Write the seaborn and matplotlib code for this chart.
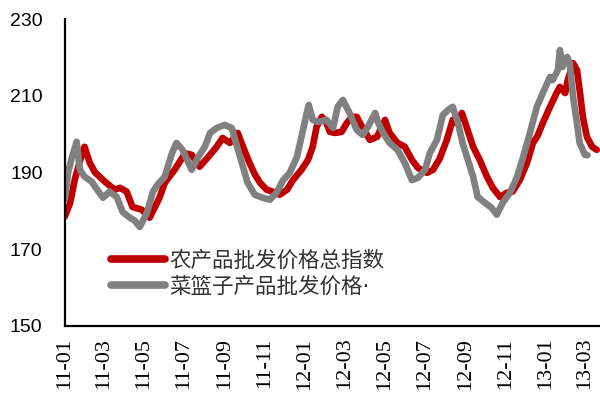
import matplotlib
matplotlib.use("Agg")
import matplotlib.pyplot as plt
import matplotlib.dates as mdates
import pandas as pd
import seaborn as sns

# 农产品批发价格总指数 (weekly readings)
agri_dates = [
    "2011-01-01", "2011-01-09", "2011-01-16", "2011-01-24", "2011-01-31", "2011-02-08",
    "2011-02-16", "2011-03-03", "2011-03-18", "2011-03-26", "2011-04-05", "2011-04-14",
    "2011-04-28", "2011-05-10", "2011-05-25", "2011-06-02", "2011-06-17", "2011-07-03",
    "2011-07-13", "2011-07-25", "2011-08-07", "2011-08-20", "2011-08-29", "2011-09-09",
    "2011-09-21", "2011-09-29", "2011-10-09", "2011-10-17", "2011-10-25", "2011-11-04",
    "2011-11-13", "2011-11-24", "2011-12-05", "2011-12-14", "2011-12-27", "2012-01-06",
    "2012-01-13", "2012-01-19", "2012-01-27", "2012-02-03", "2012-02-08", "2012-02-16",
    "2012-02-26", "2012-03-05", "2012-03-13", "2012-03-20", "2012-03-28", "2012-04-09",
    "2012-04-20", "2012-05-02", "2012-05-09", "2012-05-21", "2012-06-01", "2012-06-12",
    "2012-06-21", "2012-07-05", "2012-07-14", "2012-07-24", "2012-08-04", "2012-08-13",
    "2012-08-19", "2012-08-27", "2012-09-03", "2012-09-13", "2012-09-23", "2012-10-04",
    "2012-10-13", "2012-10-24", "2012-11-03", "2012-11-12", "2012-11-23", "2012-12-04",
    "2012-12-13", "2012-12-20", "2012-12-28", "2013-01-08", "2013-01-18", "2013-01-23",
    "2013-01-31", "2013-02-04", "2013-02-12", "2013-02-18", "2013-02-22", "2013-02-27",
    "2013-03-05", "2013-03-13", "2013-03-20",
]
agri_values = [
    178.5, 182.0, 188.0, 193.0, 196.7, 192.5,
    190.0, 187.6, 185.5, 186.0, 185.0, 181.0,
    180.3, 178.2, 183.4, 187.3, 190.7, 195.0,
    194.6, 191.5, 194.0, 196.7, 199.0, 197.7,
    200.3, 196.7, 192.5, 189.5, 187.3, 185.5,
    185.0, 184.2, 185.5, 188.0, 190.7, 193.3,
    196.7, 201.9, 204.5, 202.9, 200.6, 200.3,
    200.6, 202.9, 204.5, 204.5, 201.9, 198.5,
    199.3, 203.7, 200.3, 197.7, 196.7, 193.3,
    191.2, 189.9, 190.7, 193.5, 198.5, 203.7,
    202.9, 205.5, 201.9, 196.7, 193.3, 188.9,
    186.0, 183.6, 184.7, 185.0, 188.0, 192.5,
    197.7, 199.5, 202.9, 207.1, 210.7, 212.3,
    210.7, 214.1, 218.5, 216.7, 211.5, 204.5,
    199.3, 196.7, 195.9,
]

# 菜篮子产品批发价格 (weekly readings)
basket_dates = [
    "2011-01-01", "2011-01-06", "2011-01-12", "2011-01-19", "2011-01-24", "2011-01-31",
    "2011-02-11", "2011-02-16", "2011-02-28", "2011-03-10", "2011-03-21", "2011-03-30",
    "2011-04-10", "2011-04-17", "2011-04-25", "2011-05-06", "2011-05-15", "2011-05-22",
    "2011-06-02", "2011-06-13", "2011-06-20", "2011-06-29", "2011-07-13", "2011-07-22",
    "2011-08-02", "2011-08-10", "2011-08-20", "2011-09-01", "2011-09-12", "2011-09-20",
    "2011-09-29", "2011-10-06", "2011-10-17", "2011-10-29", "2011-11-09", "2011-11-19",
    "2011-11-29", "2011-12-09", "2011-12-20", "2011-12-27", "2012-01-04", "2012-01-07",
    "2012-01-13", "2012-01-21", "2012-02-03", "2012-02-13", "2012-02-20", "2012-02-28",
    "2012-03-09", "2012-03-20", "2012-03-29", "2012-04-06", "2012-04-17", "2012-04-21",
    "2012-04-29", "2012-05-09", "2012-05-21", "2012-06-01", "2012-06-12", "2012-06-21",
    "2012-07-02", "2012-07-09", "2012-07-20", "2012-07-29", "2012-08-06", "2012-08-13",
    "2012-08-21", "2012-08-28", "2012-09-05", "2012-09-13", "2012-09-20", "2012-10-01",
    "2012-10-11", "2012-10-19", "2012-10-28", "2012-11-08", "2012-11-19", "2012-11-28",
    "2012-12-08", "2012-12-19", "2012-12-28", "2013-01-08", "2013-01-12", "2013-01-20",
    "2013-01-23", "2013-01-27", "2013-02-03", "2013-02-07", "2013-02-12", "2013-02-18",
    "2013-02-22", "2013-03-02", "2013-03-06",
]
basket_values = [
    183.0, 190.0, 194.0, 198.0, 190.7, 188.9,
    187.6, 186.3, 183.4, 185.0, 183.6, 179.7,
    178.2, 177.5, 175.8, 179.5, 185.0, 186.8,
    188.9, 195.0, 197.7, 195.9, 190.7, 193.8,
    196.7, 200.3, 201.6, 202.4, 201.6, 196.7,
    191.5, 187.3, 184.2, 183.4, 182.9, 184.7,
    188.0, 189.9, 194.0, 199.3, 205.5, 207.6,
    203.7, 203.2, 203.7, 201.6, 207.1, 208.9,
    205.5, 201.1, 199.8, 201.9, 205.5, 203.2,
    200.3, 197.7, 195.9, 192.5, 188.0, 188.6,
    190.7, 195.0, 198.5, 205.0, 206.3, 207.1,
    202.9, 197.7, 193.3, 188.9, 183.6, 182.1,
    180.8, 179.0, 182.1, 184.7, 188.9, 194.0,
    200.0, 207.1, 210.7, 214.9, 214.1, 216.7,
    221.9, 217.5, 220.1, 218.5, 209.7, 202.9,
    197.7, 194.6, 194.5,
]

series_names = ["农产品批发价格总指数", "菜篮子产品批发价格·"]
series_colors = ["#C00000", "#808080"]
y_ticks = [150, 170, 190, 210, 230]

df = pd.concat([
    pd.DataFrame({"date": pd.to_datetime(agri_dates), "value": agri_values,
                  "series": series_names[0]}),
    pd.DataFrame({"date": pd.to_datetime(basket_dates), "value": basket_values,
                  "series": series_names[1]}),
], ignore_index=True)

sns.set_style("white")
plt.rcParams["font.family"] = ["Liberation Sans", "DejaVu Sans"]

fig = plt.figure(figsize=(6.0, 3.96), dpi=100)
ax = fig.add_axes([0.108, 0.177, 0.892, 0.775])

sns.lineplot(data=df, x="date", y="value", hue="series", hue_order=series_names,
             palette=dict(zip(series_names, series_colors)), estimator=None,
             linewidth=4.8, ax=ax, legend=False)

ax.set_xlim(pd.Timestamp("2011-01-01"), pd.Timestamp("2013-03-25"))
ax.set_ylim(150, 230)
ax.set_yticks(y_ticks)
ax.set_xlabel("")
ax.set_ylabel("")

ax.xaxis.set_major_locator(mdates.MonthLocator(bymonth=[1, 3, 5, 7, 9, 11]))
ax.xaxis.set_major_formatter(mdates.DateFormatter("%y-%m"))

for side in ("top", "right"):
    ax.spines[side].set_visible(False)
for side in ("left", "bottom"):
    ax.spines[side].set_color("black")
    ax.spines[side].set_linewidth(1.6)

ax.tick_params(axis="y", direction="in", length=4.5, width=1.6, pad=16,
               labelsize=14, colors="black")
ax.tick_params(axis="x", direction="out", length=4.5, width=1.6, pad=4,
               labelsize=16, colors="black", labelrotation=90)
for lbl in ax.get_xticklabels():
    lbl.set_fontfamily(["Liberation Serif", "DejaVu Serif"])

# legend drawn with thick line handles; the narrow middle dot comes from DejaVu
handles = [plt.Line2D([], [], color=c, linewidth=5.5, solid_capstyle="round")
           for c in series_colors]
leg = ax.legend(handles, series_names, loc="upper left",
                bbox_to_anchor=(0.05, 0.31), frameon=False,
                handlelength=2.5, handletextpad=0.22, labelspacing=0.25,
                prop={"family": ["DejaVu Sans", "Noto Sans CJK SC"], "size": 15.5})
for t in leg.get_texts():
    t.set_color("#333333")

fig.savefig("out.png", dpi=100)
